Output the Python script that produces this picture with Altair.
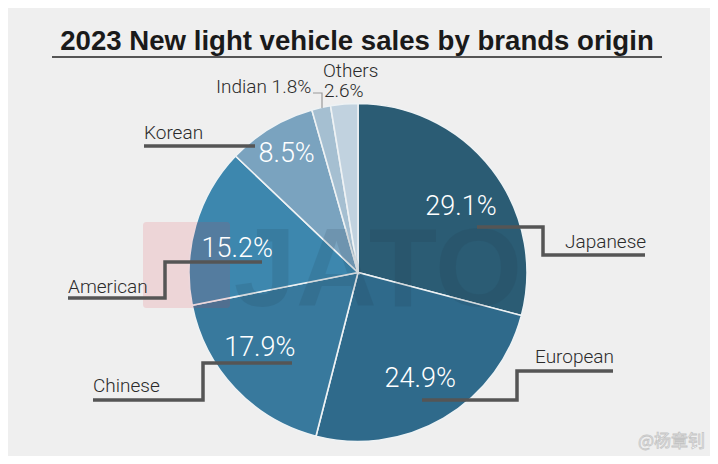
import math
import altair as alt
import pandas as pd

# ---- data ----
brands = ["Japanese", "European", "Chinese", "American", "Korean", "Indian", "Others"]
shares = [29.1, 24.9, 17.9, 15.2, 8.5, 1.8, 2.6]
inside_labels = ["29.1%", "24.9%", "17.9%", "15.2%", "8.5%", "", ""]
slice_colors = ["#2b5c74", "#2f6a8b", "#38799d", "#3d87ae", "#7aa3bf", "#a5bfd1", "#c1d2df"]

title_text = "2023 New light vehicle sales by brands origin"
outer_labels = ["Japanese", "European", "Chinese", "American", "Korean", "Indian 1.8%", "Others", "2.6%"]

# ---- layout (image pixel coordinates) ----
W, H = 702, 448
PAGE = 8
label_radius = [122, 123, 124, 123, 138, 0, 0]
label_shift = [0.09, 0.0, 0.1, -0.09, 0.0, 0, 0]   # small angular nudges (radians)
outer_x = [565, 535, 93, 68, 144, 216, 323, 324]
outer_y = [242, 357, 386, 287, 133, 87, 71, 91]

leaders = {
    "Japanese": [(477, 227), (543, 227), (543, 255), (645, 255)],
    "European": [(613, 371), (517, 371), (517, 400), (422, 400)],
    "Chinese": [(93, 400), (203, 400), (203, 363), (292, 363)],
    "American": [(68, 298), (165, 298), (165, 262), (262, 262)],
    "Korean": [(144, 146), (255, 146)],
}
thin_leader = [(313, 93), (322, 93), (322, 108)]

xs = alt.Scale(domain=[PAGE, PAGE + W], range=[0, W])
ys = alt.Scale(domain=[PAGE, PAGE + H], range=[0, H])

total = sum(shares)
cum = 0.0
mids = []
for s, sh in zip(shares, label_shift):
    mids.append((cum + s / 2) / total * 2 * math.pi + sh)
    cum += s

pie_df = pd.DataFrame({
    "brand": brands,
    "share": shares,
    "ord": list(range(len(brands))),
    "pct": inside_labels,
    "lr": label_radius,
    "mid": mids,
})

cx, cy = 358 - PAGE, 272.5 - PAGE

pie = alt.Chart(pie_df).mark_arc(radius=169, stroke="#eef2f4", strokeWidth=1.6).encode(
    theta=alt.Theta("share:Q", stack=True),
    order=alt.Order("ord:Q"),
    color=alt.Color("brand:N", scale=alt.Scale(domain=brands, range=slice_colors), legend=None),
    x=alt.value(cx),
    y=alt.value(cy),
)

pct = alt.Chart(pie_df).transform_filter("datum.pct != ''").mark_text(
    font="Roboto", fontWeight=300, fontSize=27, color="white", align="center", baseline="middle"
).encode(
    theta=alt.Theta("mid:Q", scale=None),
    radius=alt.Radius("lr:Q", scale=None),
    text="pct:N",
    x=alt.value(cx),
    y=alt.value(cy),
)

# watermark
wm_rect = alt.Chart(pd.DataFrame({"x": [143], "x2": [230], "y": [222], "y2": [308]})).mark_rect(
    color="#e03a48", opacity=0.14, cornerRadius=3
).encode(
    x=alt.X("x:Q", scale=xs, axis=None), x2="x2:Q",
    y=alt.Y("y:Q", scale=ys, axis=None), y2="y2:Q",
)
wm_text = alt.Chart(pd.DataFrame({"x": [378], "y": [306], "t": ["JATO"]})).mark_text(
    font="Liberation Sans", fontWeight="bold", fontSize=112, color="#1c3140", opacity=0.12,
    align="center", baseline="alphabetic",
).encode(
    x=alt.X("x:Q", scale=xs, axis=None), y=alt.Y("y:Q", scale=ys, axis=None), text="t:N"
)

# title
title = alt.Chart(pd.DataFrame({"x": [357], "y": [50], "t": [title_text]})).mark_text(
    font="Liberation Sans", fontWeight="bold", fontSize=27.6, color="#1a1a1a",
    align="center", baseline="alphabetic",
).encode(
    x=alt.X("x:Q", scale=xs, axis=None), y=alt.Y("y:Q", scale=ys, axis=None), text="t:N"
)
title_rule = alt.Chart(pd.DataFrame({"x": [52], "x2": [662], "y": [57]})).mark_rule(
    color="#555555", strokeWidth=2
).encode(
    x=alt.X("x:Q", scale=xs, axis=None), x2="x2:Q", y=alt.Y("y:Q", scale=ys, axis=None)
)

# leader lines
rows = []
for k, pts in leaders.items():
    for i, (px, py) in enumerate(pts):
        rows.append({"seg": k, "i": i, "x": px, "y": py})
lead_df = pd.DataFrame(rows)
lead = alt.Chart(lead_df).mark_line(
    color="#555555", strokeWidth=3.5, strokeJoin="miter", strokeCap="butt"
).encode(
    x=alt.X("x:Q", scale=xs, axis=None), y=alt.Y("y:Q", scale=ys, axis=None),
    detail="seg:N", order="i:Q",
)
thin_df = pd.DataFrame({"i": range(len(thin_leader)), "x": [p[0] for p in thin_leader], "y": [p[1] for p in thin_leader]})
thin = alt.Chart(thin_df).mark_line(color="#9a9a9a", strokeWidth=1.2).encode(
    x=alt.X("x:Q", scale=xs, axis=None), y=alt.Y("y:Q", scale=ys, axis=None), order="i:Q"
)

lab_df = pd.DataFrame({"t": outer_labels, "x": outer_x, "y": outer_y})
labels = alt.Chart(lab_df).mark_text(
    font="Roboto", fontWeight=300, fontSize=19, color="#2b2b2b", align="left", baseline="middle"
).encode(
    x=alt.X("x:Q", scale=xs, axis=None), y=alt.Y("y:Q", scale=ys, axis=None), text="t:N"
)

credit = alt.Chart(pd.DataFrame({"x": [638], "y": [442], "t": ["@杨章钊"]})).mark_text(
    font="Noto Sans CJK SC", fontSize=17, color="#ffffff", stroke="#c4c4c4", strokeWidth=0.8,
    align="left", baseline="middle",
).encode(
    x=alt.X("x:Q", scale=xs, axis=None), y=alt.Y("y:Q", scale=ys, axis=None), text="t:N"
)

chart = alt.layer(
    pie, wm_rect, wm_text, pct, title_rule, title, lead, thin, labels, credit
).properties(
    width=W, height=H, background="#efefef", padding=0,
    autosize=alt.AutoSizeParams(type="none"),
).configure_view(stroke=None)

chart.save("out.html", embed_options={"renderer": "svg", "actions": False})
